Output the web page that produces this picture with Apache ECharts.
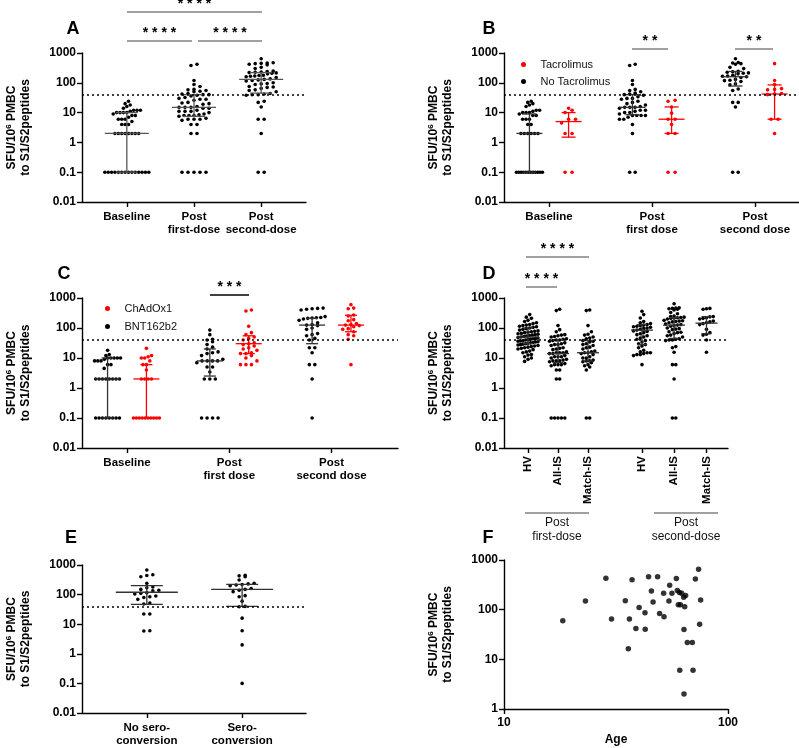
<!DOCTYPE html>
<html>
<head>
<meta charset="utf-8">
<script src="https://cdn.jsdelivr.net/npm/echarts@6.0.0/dist/echarts.min.js"></script>
<style>
  html, body { margin: 0; padding: 0; background: #fff; }
  #chart { width: 799px; height: 748px; }
</style>
</head>
<body>
<div id="chart"></div>
<script>
// ---- data (SFU per 10^6 PBMC) ----
// A: all patients
const aLabels = ['Baseline', 'Post\nfirst-dose', 'Post\nsecond-dose'];
const aBase = [0.1,0.1,0.1,0.1,0.1,0.1,0.1,0.1,0.1,0.1,0.1,0.1,0.1,0.1, 2,2,2,2,2,2,2,2, 4,4,4, 5,6,6,6, 7,8,8, 9,10,10,10,10, 11,12,12,12, 14,16,18,20,24];
const aFirst = [0.1,0.1,0.1,0.1,0.1, 2,2, 4,4, 5.5,6,6,6,6.5, 7.5,8,8,8,8.5,9, 10,11,11,11,12, 14,14,15,15,15,16, 19,20,21,22, 26,28,28,30,32, 36,38,40,40,42,44, 50,52,55,58,60, 75,88, 120, 380,420];
const aSecond = [0.1,0.1, 2, 6,6, 15.5, 22,24, 38,40,40,42,44, 50,55,58, 65,70,72,75, 88,92,95,100, 115,120,125,130,135, 150,160,165,170,175,180, 200,210,215,220,225,230,240,250, 300,330, 400,420,440,450,460,470, 640];
const aMedian = [2, 15, 130];
const aQ1 = [0.1, 7.5, 45];
const aQ3 = [10, 40, 220];

// B: tacrolimus vs no tacrolimus
const bLabels = ['Baseline', 'Post\nfirst dose', 'Post\nsecond dose'];
const bBaseNo = [0.1,0.1,0.1,0.1,0.1,0.1,0.1,0.1,0.1,0.1,0.1,0.1, 2,2,2,2,2,2, 4,4, 6,6,6, 8,8,9, 10,10,10, 11,12,12, 16,18,20,22,24];
const bBaseTac = [0.1,0.1, 2,2, 4.5, 6,6, 10,12,14];
const bFirstNo = [0.1,0.1, 2, 4, 6,6,7, 8,8,8,8,9, 10,10,11,12,12, 14,15,15,15,16, 18,20,22,24, 28,30,30,34, 38,40,42,45, 50,55,60, 88,120, 380,420];
const bFirstTac = [0.1,0.1, 2,2, 4, 6,6, 9.6, 15.5, 24,26];
const bSecondNo = [0.1,0.1, 15.5, 22,22, 55,62, 85,92, 110,118,122,130, 150,160,165,170,180, 200,210,215,225,235,245, 300,330, 420,440,460,480, 640];
const bSecondTac = [2, 6,6, 40,42,44, 58,60,64, 88, 120, 440];
const bNoMedian = [2, 15, 160];
const bNoQ1 = [0.1, 8.5, 78];
const bNoQ3 = [9, 40, 240];
const bTacMedian = [5, 6, 42];
const bTacQ1 = [1.5, 2, 6];
const bTacQ3 = [10, 15.5, 85];

// C: ChAdOx1 vs BNT162b2
const cLabels = ['Baseline', 'Post\nfirst dose', 'Post\nsecond dose'];
const cBaseBNT = [0.1,0.1,0.1,0.1,0.1,0.1,0.1,0.1, 2,2,2,2,2,2,2,2, 4.5, 6,6, 8,8,8, 9, 10,10,10,10,10, 12,13,18];
const cBaseChAd = [0.1,0.1,0.1,0.1,0.1,0.1,0.1,0.1,0.1,0.1, 2,2,2,2, 4, 6,6, 8, 10,10, 11,12, 21];
const cFirstBNT = [0.1,0.1,0.1,0.1, 2,2,2, 3.4, 5,5, 7,8,8,8,8,9, 12,14,15,16, 20,23,28,35, 40,42,60,85];
const cFirstChAd = [6,6,6, 8,10, 12,14,14,15, 18,20,22, 25,28,30,32, 40,45,50, 60,70, 115, 370,400];
const cSecondBNT = [0.1, 2, 6,6, 15, 22,22, 40,45, 55,60,65, 90,100, 120,125,130, 150,180, 200,210,215,220,225,240, 400,420,440,450,460];
const cSecondChAd = [6, 42, 55,60, 75,90,95, 110,120,125,130,140, 175,190, 250,270, 440,460, 600];
const cBNTMedian = [2, 8, 125];
const cBNTQ1 = [0.1, 2.5, 30];
const cBNTQ3 = [10, 20, 210];
const cChAdMedian = [2, 30, 125];
const cChAdQ1 = [0.1, 14, 75];
const cChAdQ3 = [6, 55, 265];

// D: healthy volunteers vs immunosuppressed
const dLabels = ['HV', 'All-IS', 'Match-IS', 'HV', 'All-IS', 'Match-IS'];
const dHV1 = [7.7, 9, 10, 11, 12.5, 13, 15, 16, 17, 19, 20, 21, 22, 23, 24, 25, 26, 27, 28, 29, 30, 31, 32, 33, 34, 35, 36, 37, 38, 40, 41, 42, 44, 45, 46, 48, 50, 52, 54, 56, 58, 60, 62, 64, 66, 70, 72, 75, 78, 80, 85, 90, 95, 100, 105, 110, 115, 120, 125, 130, 140, 150, 165, 180, 210, 230, 280];
const dMatch1 = [0.1,0.1, 4, 5,5.5,6, 7,7.5,8,8,8.5, 10,10,11, 13,14,15,15,16,17, 20,22,23, 26,28,30, 34,36,38, 44,46,50, 58,62, 75, 120, 380,400];
const dHV2 = [6, 12,13,13,14,15,15,16, 18, 22,25,28, 30,34,38, 42,46,50, 55,60,64, 70,77,80, 85,90,95,100, 105,110,115,120, 125,130,140,150, 165,215,280,360];
const dMatch2 = [15.5, 40, 58,62,70, 90, 130,140,150,160,170, 200,210,220,235,240, 420,440,450];
const dMedian = [50, 14, 15, 85, 125, 145];
const dQ1 = [30, 7, 8, 28, 45, 65];
const dQ3 = [100, 40, 38, 130, 220, 240];

// E: by seroconversion
const eLabels = ['No sero-\nconversion', 'Sero-\nconversion'];
const eNoSero = [5.9,6, 22,22, 48,52, 69,80,85,90, 105,110,115, 135,140,150, 170,180, 240, 400,440,470, 680];
const eSero = [0.1, 2, 6, 16, 39,40, 60, 85,92, 126,140,150,160, 200,210,220,230,240, 310, 400,430,450];
const eMedian = [120, 150];
const eQ1 = [47, 40];
const eQ3 = [200, 220];

// F: age vs response
const fAge = [18.3, 23.1, 28.5, 30.2, 34.8, 35.9, 36.3, 37.3, 38.8, 40.1, 42.6, 42.7, 44.2, 45.5, 46.3, 48.5, 49.5, 51.8, 51.6, 54.5, 54.9, 56.2, 58.8, 59.4, 60, 60.7, 60.9, 61.3, 62.1, 63.4, 63.6, 63.6, 64.1, 64.7, 65.8, 69.3, 69.8, 71.5, 73.9, 74.7, 75.5];
const fSfu = [59.5, 150, 428, 65, 152, 16.3, 65, 402, 42, 110, 87, 40.5, 462, 238, 143, 462, 83.5, 71.6, 214, 150, 310, 214, 422, 242, 125, 221, 6, 125, 214, 178, 40, 2, 115, 192, 21.8, 21.8, 6, 415, 649, 51, 157];

const threshold = 40;

// ---- layout ----
const FONT = 'Liberation Sans, Arial, sans-serif';
const RED = '#ff0000';
const BLACK = '#000000';
const BAR_BLACK = '#333333';

// sp = horizontal dot pitch, rowH = height of a dot row, maxHalf = widest half-row (px)
const layout = [
  { left: 82,  top: 53,  width: 224, height: 149, xMin: -0.667, xMax: 2.667, half: 22, cap: 11, maxHalf: 15, sp: 6,   rowH: 4 },
  { left: 504, top: 53,  width: 295, height: 149, xMin: -0.437, xMax: 2.427, half: 13, cap: 7,  maxHalf: 13, sp: 5.5, rowH: 4 },
  { left: 82,  top: 298, width: 316, height: 150, xMin: -0.44,  xMax: 2.65,  half: 13, cap: 6,  maxHalf: 13, sp: 5.5, rowH: 4 },
  { left: 504, top: 298, width: 224, height: 150, xMin: -0.8,   xMax: 6.667, half: 11, cap: 5,  maxHalf: 10, sp: 3.4, rowH: 3.6 },
  { left: 82,  top: 565, width: 224, height: 148, xMin: -0.68,  xMax: 1.67,  half: 31, cap: 16, maxHalf: 15, sp: 6,   rowH: 4 },
  { left: 504, top: 560, width: 224, height: 149 }
];
const tight = { sp: 3.4 };                 // baseline columns are packed closer
const dPos = [0, 1, 2, 3.8, 4.87, 5.95];
const subOff = 0.19;   // B and C paired groups
const Y_MIN = 0.01, Y_MAX = 1000;

function yPix(L, v) {
  const t = (Math.log10(Y_MAX) - Math.log10(v)) / (Math.log10(Y_MAX) - Math.log10(Y_MIN));
  return L.top + t * L.height;
}

// GraphPad-like scatter: points grouped into horizontal rows, each row centred
function swarm(values, L, opt) {
  const spBase = (opt && opt.sp) || L.sp;
  const maxHalf = (opt && opt.maxHalf) || L.maxHalf;
  const pts = values.map(v => ({ v: v, y: yPix(L, v), dx: 0 })).sort((a, b) => b.y - a.y);
  let i = 0;
  while (i < pts.length) {
    const y0 = pts[i].y;
    let j = i;
    while (j < pts.length && y0 - pts[j].y < L.rowH) j++;
    const row = pts.slice(i, j);
    const n = row.length;
    let sp = spBase;
    if (n > 1 && (n - 1) * sp / 2 > maxHalf) sp = 2 * maxHalf / (n - 1);
    row.forEach((p, k) => { p.dx = (k - (n - 1) / 2) * sp; });
    i = j;
  }
  return pts;
}

function dots(idx, x, values, color, name, threshLine, opt) {
  const L = layout[idx];
  const unit = L.width / (L.xMax - L.xMin);
  const s = {
    type: 'scatter', name: name, xAxisIndex: idx, yAxisIndex: idx, z: 3, silent: true,
    symbol: 'circle', symbolSize: 3.6, itemStyle: { color: color, opacity: 1 },
    data: swarm(values, L, opt).map(p => [x + p.dx / unit, p.v])
  };
  if (threshLine) {
    s.markLine = {
      silent: true, symbol: 'none', label: { show: false },
      lineStyle: { color: '#000', width: 1.5, type: [2, 3] },
      data: [{ yAxis: threshold }]
    };
  }
  return s;
}

function bars(idx, xs, med, q1, q3, color) {
  const L = layout[idx];
  return {
    type: 'custom', xAxisIndex: idx, yAxisIndex: idx, z: 4, silent: true,
    data: xs.map((x, i) => [x, med[i], q1[i], q3[i]]),
    encode: { x: 0, y: [1, 2, 3] },
    renderItem: function (params, api) {
      const x = api.value(0);
      const m = api.coord([x, api.value(1)]);
      const lo = api.coord([x, api.value(2)]);
      const hi = api.coord([x, api.value(3)]);
      const st = { stroke: color, lineWidth: 1.3 };
      return {
        type: 'group', children: [
          { type: 'line', shape: { x1: m[0] - L.half, y1: m[1], x2: m[0] + L.half, y2: m[1] }, style: st },
          { type: 'line', shape: { x1: lo[0], y1: lo[1], x2: hi[0], y2: hi[1] }, style: st },
          { type: 'line', shape: { x1: lo[0] - L.cap, y1: lo[1], x2: lo[0] + L.cap, y2: lo[1] }, style: st },
          { type: 'line', shape: { x1: hi[0] - L.cap, y1: hi[1], x2: hi[0] + L.cap, y2: hi[1] }, style: st }
        ]
      };
    }
  };
}

const logLabel = v => {
  const e = Math.round(Math.log10(v));
  return e >= 0 ? String(Math.pow(10, e)) : Math.pow(10, e).toFixed(-e);
};

const labelStyle = { fontFamily: FONT, fontWeight: 'bold', fontSize: 12, color: '#000' };
const axisLine = { show: true, onZero: false, lineStyle: { color: '#000', width: 1.4 } };
const axisTick = { show: true, length: 5, lineStyle: { color: '#000', width: 1.4 } };

function yAxisFor(idx, min) {
  return {
    type: 'log', logBase: 10, gridIndex: idx, min: min, max: Y_MAX,
    axisLine: axisLine, axisTick: axisTick, splitLine: { show: false },
    axisLabel: Object.assign({ margin: 6, formatter: logLabel }, labelStyle),
    name: 'SFU/10{sup|6} PMBC\nto S1/S2peptides',
    nameLocation: 'middle', nameRotate: 90, nameGap: 49,
    nameTextStyle: {
      fontFamily: FONT, fontWeight: 'bold', fontSize: 12, color: '#000', lineHeight: 14,
      rich: { sup: { fontFamily: FONT, fontWeight: 'bold', fontSize: 8, color: '#000', verticalAlign: 'top' } }
    }
  };
}

function xAxisFor(idx, ticks, labels, extra) {
  const L = layout[idx];
  const lookup = v => labels[ticks.findIndex(t => Math.abs(t - v) < 1e-6)] || '';
  return Object.assign({
    type: 'value', gridIndex: idx, min: L.xMin, max: L.xMax,
    axisLine: axisLine, splitLine: { show: false },
    axisTick: Object.assign({ customValues: ticks }, axisTick),
    axisLabel: Object.assign({ customValues: ticks, formatter: lookup, margin: 8, lineHeight: 13 },
      labelStyle, { fontSize: 11.5 })
  }, extra || {});
}

const grids = layout.map(L => ({ left: L.left, top: L.top, width: L.width, height: L.height }));

const xAxes = [
  xAxisFor(0, [0, 1, 2], aLabels),
  xAxisFor(1, [0, 1, 2], bLabels),
  xAxisFor(2, [0, 1, 2], cLabels),
  xAxisFor(3, dPos, dLabels),
  xAxisFor(4, [0, 1], eLabels),
  {
    type: 'log', logBase: 10, gridIndex: 5, min: 10, max: 100,
    axisLine: axisLine, axisTick: axisTick, splitLine: { show: false },
    axisLabel: Object.assign({ margin: 8 }, labelStyle),
    name: 'Age', nameLocation: 'middle', nameGap: 25,
    nameTextStyle: { fontFamily: FONT, fontWeight: 'bold', fontSize: 12, color: '#000' }
  }
];
xAxes[3].axisLabel.rotate = 90;

const yAxes = [yAxisFor(0, Y_MIN), yAxisFor(1, Y_MIN), yAxisFor(2, Y_MIN), yAxisFor(3, Y_MIN), yAxisFor(4, Y_MIN), yAxisFor(5, 1)];

const series = [
  // A
  dots(0, 0, aBase, BLACK, 'A0', true, { sp: 3.4, maxHalf: 22 }),
  dots(0, 1, aFirst, BLACK, 'A1'),
  dots(0, 2, aSecond, BLACK, 'A2'),
  bars(0, [0, 1, 2], aMedian, aQ1, aQ3, '#555'),
  // B
  dots(1, -subOff, bBaseNo, BLACK, 'No Tacrolimus', true, tight),
  dots(1, 1 - subOff, bFirstNo, BLACK, 'No Tacrolimus'),
  dots(1, 2 - subOff, bSecondNo, BLACK, 'No Tacrolimus'),
  dots(1, subOff, bBaseTac, RED, 'Tacrolimus', false, { sp: 7 }),
  dots(1, 1 + subOff, bFirstTac, RED, 'Tacrolimus', false, { sp: 7 }),
  dots(1, 2 + subOff, bSecondTac, RED, 'Tacrolimus', false, { sp: 7 }),
  bars(1, [-subOff, 1 - subOff, 2 - subOff], bNoMedian, bNoQ1, bNoQ3, BAR_BLACK),
  bars(1, [subOff, 1 + subOff, 2 + subOff], bTacMedian, bTacQ1, bTacQ3, RED),
  // C
  dots(2, -subOff, cBaseBNT, BLACK, 'BNT162b2', true, tight),
  dots(2, 1 - subOff, cFirstBNT, BLACK, 'BNT162b2'),
  dots(2, 2 - subOff, cSecondBNT, BLACK, 'BNT162b2'),
  dots(2, subOff, cBaseChAd, RED, 'ChAdOx1', false, tight),
  dots(2, 1 + subOff, cFirstChAd, RED, 'ChAdOx1'),
  dots(2, 2 + subOff, cSecondChAd, RED, 'ChAdOx1'),
  bars(2, [-subOff, 1 - subOff, 2 - subOff], cBNTMedian, cBNTQ1, cBNTQ3, BAR_BLACK),
  bars(2, [subOff, 1 + subOff, 2 + subOff], cChAdMedian, cChAdQ1, cChAdQ3, RED),
  // D
  dots(3, dPos[0], dHV1, BLACK, 'D0', true),
  dots(3, dPos[1], aFirst, BLACK, 'D1'),
  dots(3, dPos[2], dMatch1, BLACK, 'D2'),
  dots(3, dPos[3], dHV2, BLACK, 'D3'),
  dots(3, dPos[4], aSecond, BLACK, 'D4'),
  dots(3, dPos[5], dMatch2, BLACK, 'D5'),
  bars(3, dPos, dMedian, dQ1, dQ3, BAR_BLACK),
  // E
  dots(4, 0, eNoSero, BLACK, 'E0', true),
  dots(4, 1, eSero, BLACK, 'E1'),
  bars(4, [0, 1], eMedian, eQ1, eQ3, BAR_BLACK),
  // F
  {
    type: 'scatter', xAxisIndex: 5, yAxisIndex: 5, silent: true, symbolSize: 5.5,
    itemStyle: { color: BLACK }, data: fAge.map((a, i) => [a, fSfu[i]])
  }
];

const legendText = { fontFamily: FONT, fontSize: 11, color: '#111' };
const legends = [
  { left: 516, top: 54, orient: 'vertical', icon: 'circle', itemWidth: 24, itemHeight: 5, itemGap: 6,
    selectedMode: false, textStyle: legendText, data: ['Tacrolimus', 'No Tacrolimus'] },
  { left: 100, top: 298, orient: 'vertical', icon: 'circle', itemWidth: 24, itemHeight: 5, itemGap: 7,
    selectedMode: false, textStyle: legendText, data: ['ChAdOx1', 'BNT162b2'] }
];

// significance brackets: [x1, x2, y, stars, colour]
const sig = [
  [127, 262, 12, '* * * *', '#808080'], [127, 192, 41, '* * * *', '#808080'], [198, 262, 41, '* * * *', '#808080'],
  [632, 668, 49, '* *', '#808080'], [735, 773, 49, '* *', '#808080'],
  [210, 249, 295, '* * *', '#000'],
  [526, 589, 257, '* * * *', '#808080'], [526, 557, 287, '* * * *', '#808080']
];
const letters = [['A', 73, 29], ['B', 489, 29], ['C', 64, 274], ['D', 489, 274], ['E', 71, 538], ['F', 488, 538]];
const groupLabels = [[525, 589, 'Post\nfirst-dose'], [654, 718, 'Post\nsecond-dose']];

const graphic = [];
sig.forEach(s => {
  graphic.push({ type: 'line', shape: { x1: s[0], y1: s[2], x2: s[1], y2: s[2] }, style: { stroke: s[4], lineWidth: 1.5 } });
  graphic.push({ type: 'text', x: (s[0] + s[1]) / 2, y: s[2] - 8,
    style: { text: s[3], font: 'bold 14px ' + FONT, fill: '#000', textAlign: 'center', textVerticalAlign: 'middle', align: 'center', verticalAlign: 'middle' } });
});
letters.forEach(l => graphic.push({ type: 'text', x: l[1], y: l[2],
  style: { text: l[0], font: 'bold 18px ' + FONT, fill: '#000', textAlign: 'center', textVerticalAlign: 'middle', align: 'center', verticalAlign: 'middle' } }));
groupLabels.forEach(g => {
  graphic.push({ type: 'line', shape: { x1: g[0], y1: 513, x2: g[1], y2: 513 }, style: { stroke: '#808080', lineWidth: 1.5 } });
  graphic.push({ type: 'text', x: (g[0] + g[1]) / 2, y: 516,
    style: { text: g[2], font: '12px ' + FONT, fill: '#111', lineHeight: 14, textAlign: 'center', textVerticalAlign: 'top', align: 'center', verticalAlign: 'top' } });
});

const chart = echarts.init(document.getElementById('chart'), null, { renderer: 'canvas' });
chart.setOption({
  animation: false,
  backgroundColor: '#fff',
  grid: grids,
  xAxis: xAxes,
  yAxis: yAxes,
  legend: legends,
  series: series,
  graphic: graphic
});
</script>
</body>
</html>
